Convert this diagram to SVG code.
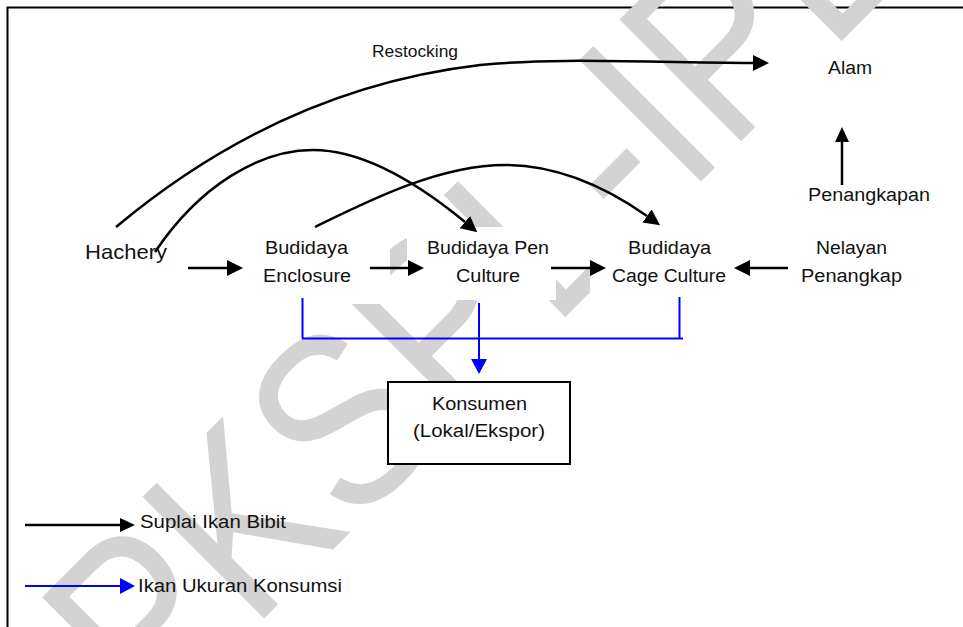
<svg xmlns="http://www.w3.org/2000/svg" width="963" height="627" viewBox="0 0 963 627">
<style>
text{font-family:"Liberation Sans",Arial,sans-serif;fill:#111;font-kerning:none}
.lbl{font-size:18px}
.wm{font-size:250px;fill:#d3d3d3}
.mask{fill:#fff}
.k{stroke:#000;stroke-width:2.5;fill:none}
.b{stroke:#0000ff;stroke-width:2;fill:none}
</style>
<defs>
<marker id="ah" viewBox="0 0 10 10" refX="0" refY="5" markerUnits="userSpaceOnUse" markerWidth="16" markerHeight="16" orient="auto"><path d="M0,0 L10,5 L0,10 z" fill="#000"/></marker>
<marker id="ahs" viewBox="0 0 10 10" refX="0" refY="5" markerUnits="userSpaceOnUse" markerWidth="15" markerHeight="14" orient="auto" preserveAspectRatio="none"><path d="M0,0 L10,5 L0,10 z" fill="#000"/></marker>
<marker id="bh" viewBox="0 0 10 10" refX="0" refY="5" markerUnits="userSpaceOnUse" markerWidth="15" markerHeight="16" orient="auto" preserveAspectRatio="none"><path d="M0,0 L10,5 L0,10 z" fill="#0000ff"/></marker>
</defs>
<rect width="963" height="627" fill="#fff"/>
<rect id="frame" x="7.5" y="7.5" width="1000" height="1000" fill="none" stroke="#000" stroke-width="2"/>
<g id="watermark"><text class="wm" transform="rotate(-45) translate(-410,624) scale(0.852,1)">PKSPL-IPB</text></g>
<g id="nodes">
<g id="restocking-label"><text x="372" y="57" font-size="16" textLength="86" lengthAdjust="spacingAndGlyphs">Restocking</text></g>
<g id="alam"><text class="lbl" x="828" y="74" textLength="44" lengthAdjust="spacingAndGlyphs">Alam</text></g>
<g id="penangkapan"><text class="lbl" x="808" y="201" textLength="122" lengthAdjust="spacingAndGlyphs">Penangkapan</text></g>
<g id="hachery"><text x="85" y="259" font-size="21" textLength="82" lengthAdjust="spacingAndGlyphs">Hachery</text></g>
<g id="enclosure"><rect class="mask" x="255" y="232" width="135" height="72"/><text class="lbl" x="265" y="254" textLength="83" lengthAdjust="spacingAndGlyphs">Budidaya</text><text class="lbl" x="263" y="282" textLength="88" lengthAdjust="spacingAndGlyphs">Enclosure</text></g>
<g id="pen"><rect class="mask" x="407" y="227" width="149" height="73"/><text class="lbl" x="427" y="254" textLength="122" lengthAdjust="spacingAndGlyphs">Budidaya Pen</text><text class="lbl" x="456" y="282" textLength="64" lengthAdjust="spacingAndGlyphs">Culture</text></g>
<g id="cage"><rect class="mask" x="590" y="212" width="150" height="88"/><text class="lbl" x="628" y="254" textLength="83" lengthAdjust="spacingAndGlyphs">Budidaya</text><text class="lbl" x="612" y="282" textLength="114" lengthAdjust="spacingAndGlyphs">Cage Culture</text></g>
<g id="nelayan"><text class="lbl" x="816" y="254" textLength="71" lengthAdjust="spacingAndGlyphs">Nelayan</text><text class="lbl" x="801" y="282" textLength="101" lengthAdjust="spacingAndGlyphs">Penangkap</text></g>
<g id="konsumen"><rect x="388" y="382" width="182" height="82" fill="#fff" stroke="#000" stroke-width="2"/><text class="lbl" x="432" y="410" textLength="95" lengthAdjust="spacingAndGlyphs">Konsumen</text><text class="lbl" x="413" y="437" textLength="132" lengthAdjust="spacingAndGlyphs">(Lokal/Ekspor)</text></g>
</g>
<g id="connectors">
<path class="k" d="M116,227 C190,165 310,85 480,65 C560,57 650,63 753,63" marker-end="url(#ah)"/>
<path class="k" d="M155,252 C200,185 260,150 313,150 C366,150 420,185 465,222" marker-end="url(#ah)"/>
<path class="k" d="M315,227 C370,200 440,165 505,165 C560,165 610,190 647,216" marker-end="url(#ah)"/>
<path class="k" d="M188,268 H227" marker-end="url(#ah)"/>
<path class="k" d="M370,268 H408" marker-end="url(#ah)"/>
<path class="k" d="M551,268 H590" marker-end="url(#ah)"/>
<path class="k" d="M788,268 H750" marker-end="url(#ah)"/>
<path class="k" d="M842,185 V142" marker-end="url(#ahs)"/>
<path class="b" d="M302.5,298 V338.5 M302,338.5 H683 M679.5,297 V338.5"/>
<path class="b" d="M479,303 V359" marker-end="url(#bh)"/>
</g>
<g id="legend">
<path class="k" d="M25,525 H120" stroke-width="2" marker-end="url(#ahs)"/>
<text class="lbl" x="140" y="528" textLength="146" lengthAdjust="spacingAndGlyphs">Suplai Ikan Bibit</text>
<path class="b" d="M25,586 H120" stroke-width="2.5" marker-end="url(#bh)"/>
<text class="lbl" x="138" y="592" textLength="204" lengthAdjust="spacingAndGlyphs">Ikan Ukuran Konsumsi</text>
</g>
</svg>
